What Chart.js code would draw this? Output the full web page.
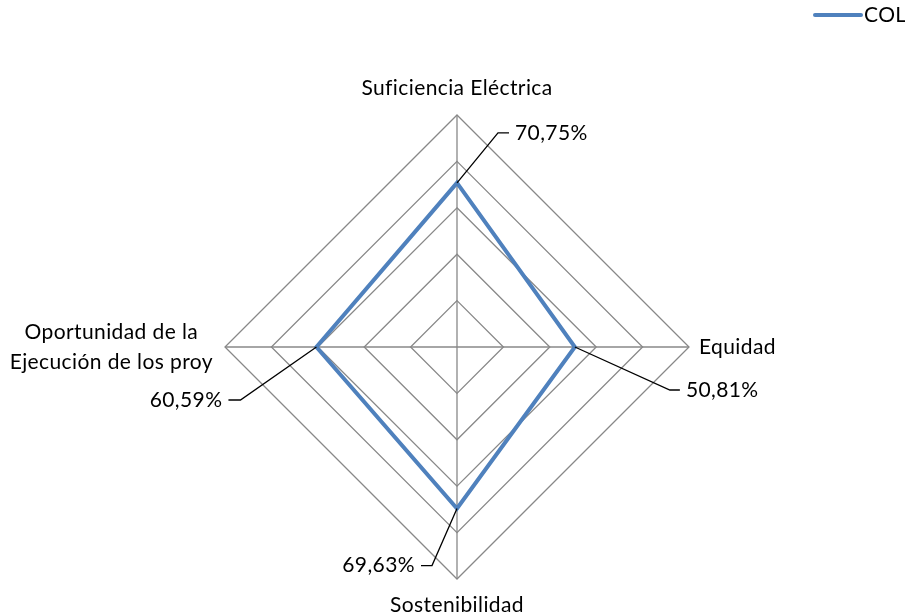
<!DOCTYPE html>
<html>
<head>
<meta charset="utf-8">
<script src="https://cdn.jsdelivr.net/npm/chart.js@4.4.1/dist/chart.umd.min.js"></script>
<style>
html,body{margin:0;padding:0;background:#fff;}
#wrap{width:905px;height:614px;position:relative;}
</style>
</head>
<body>
<div id="wrap"><canvas id="c" width="905" height="614"></canvas></div>
<script>
const categories = [["Suficiencia Eléctrica"], ["Equidad"], ["Sostenibilidad"], ["Oportunidad de la", "Ejecución de los proy"]];
const seriesName = "COL";
const values = [70.75, 50.81, 69.63, 60.59];
const valueLabels = ["70,75%", "50,81%", "69,63%", "60,59%"];
const tickValues = [0, 20, 40, 60, 80, 100];

const FONT = "Lato, 'Open Sans', sans-serif";
const FSIZE = 21;
const SPACING = "0.4px";
const LINE = "#4F81BD";
const GRID = "#888888";

// leader-line geometry (style), per point
const leaders = [
  {dx: 41, dy: -50, h: 11, align: "left"},
  {dx: 95, dy: 43, h: 10, align: "left"},
  {dx: -25, dy: 57, h: -11, align: "right"},
  {dx: -76, dy: 53, h: -12, align: "right"}
];

const labelPlugin = {
  id: "customLabels",
  afterDraw(chart) {
    const ctx = chart.ctx;
    const scale = chart.scales.r;
    const meta = chart.getDatasetMeta(0);
    ctx.save();
    ctx.fillStyle = "#000";
    ctx.font = FSIZE + "px " + FONT;
    if ("letterSpacing" in ctx) ctx.letterSpacing = SPACING;
    const R = scale.drawingArea;
    categories.forEach((lines, i) => {
      const lh = 30;
      if (i === 0) {
        const p = scale.getPointPosition(i, R + 27);
        ctx.textAlign = "center"; ctx.textBaseline = "middle";
        ctx.fillText(lines[0], p.x, p.y);
      } else if (i === 1) {
        const p = scale.getPointPosition(i, R + 10);
        ctx.textAlign = "left"; ctx.textBaseline = "middle";
        ctx.fillText(lines[0], p.x, p.y);
      } else if (i === 2) {
        const p = scale.getPointPosition(i, R + 26);
        ctx.textAlign = "center"; ctx.textBaseline = "middle";
        ctx.fillText(lines[0], p.x, p.y);
      } else {
        const p = scale.getPointPosition(i, R + 12);
        const maxW = Math.max(...lines.map(t => ctx.measureText(t).width));
        const cx = p.x - maxW / 2;
        ctx.textAlign = "center"; ctx.textBaseline = "middle";
        lines.forEach((t, k) => {
          ctx.fillText(t, cx, p.y + (k - (lines.length - 1) / 2) * lh);
        });
      }
    });
    meta.data.forEach((pt, i) => {
      const L = leaders[i];
      const x1 = pt.x + L.dx, y1 = pt.y + L.dy, x2 = x1 + L.h;
      ctx.strokeStyle = "#000";
      ctx.lineWidth = 1.3;
      ctx.beginPath();
      ctx.moveTo(pt.x, pt.y);
      ctx.lineTo(x1, y1);
      ctx.lineTo(x2, y1);
      ctx.stroke();
      ctx.textBaseline = "middle";
      ctx.textAlign = L.align;
      ctx.fillText(valueLabels[i], x2 + (L.align === "left" ? 6 : -6), y1);
    });
    const ds = chart.data.datasets[0];
    ctx.strokeStyle = ds.borderColor;
    ctx.lineWidth = 4;
    ctx.lineCap = "round";
    ctx.beginPath();
    ctx.moveTo(815, 15);
    ctx.lineTo(861, 15);
    ctx.stroke();
    ctx.textAlign = "left";
    ctx.textBaseline = "middle";
    ctx.fillText(ds.label, 864, 15);
    ctx.restore();
  }
};

new Chart(document.getElementById("c"), {
  type: "radar",
  data: {
    labels: categories,
    datasets: [{
      label: seriesName,
      data: values,
      borderColor: LINE,
      backgroundColor: "rgba(0,0,0,0)",
      borderWidth: 4,
      pointRadius: 0,
      pointHoverRadius: 0,
      fill: false,
      tension: 0
    }]
  },
  options: {
    responsive: false,
    animation: false,
    devicePixelRatio: 1,
    layout: { padding: { top: 115, bottom: 35, left: 225, right: 216 } },
    plugins: { legend: { display: false }, tooltip: { enabled: false } },
    scales: {
      r: {
        min: tickValues[0],
        max: tickValues[tickValues.length - 1],
        ticks: { display: false, stepSize: tickValues[1] - tickValues[0] },
        grid: { color: GRID, lineWidth: 1.3 },
        angleLines: { color: GRID, lineWidth: 1.3 },
        pointLabels: { display: false }
      }
    }
  },
  plugins: [labelPlugin]
});
</script>
</body>
</html>
